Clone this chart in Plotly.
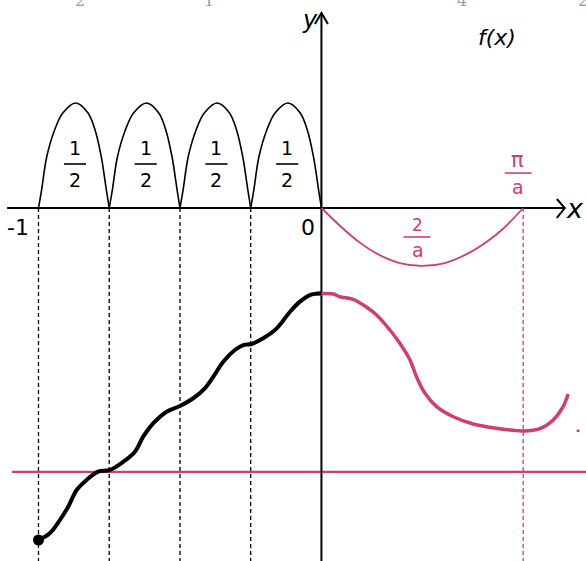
import plotly.graph_objects as go

PINK = "#d43c6f"
INK = "black"

# --- arches |f| on [-1, 0]: one arch profile (offset from its start, height) ---
arch_starts = [-1.0, -0.75, -0.5, -0.25]
arch_dx = [0, 0.011, 0.029, 0.057, 0.086, 0.132, 0.175, 0.2, 0.222, 0.24, 0.25]
arch_y = [0, 0.171, 0.486, 0.743, 0.905, 1.0, 0.905, 0.743, 0.486, 0.171, 0]
arch_label_dx = 0.129

# --- pink bowl on [0, pi/a] ---
pi_over_a = 0.713
bowl_x = [0, 0.076, 0.136, 0.196, 0.277, 0.355, 0.436, 0.52, 0.588, 0.643, 0.713]
bowl_y = [0, -0.195, -0.33, -0.435, -0.525, -0.552, -0.524, -0.43, -0.315, -0.195, 0]

# --- lower sketch: antiderivative (black, left) and pink continuation ---
wave_x = [-1.0, -0.96, -0.924, -0.895, -0.865, -0.83, -0.789, -0.748, -0.70, -0.659,
          -0.63, -0.594, -0.547, -0.5, -0.453, -0.412, -0.382, -0.347, -0.306, -0.276,
          -0.247, -0.206, -0.158, -0.111, -0.076, -0.041, 0.0]
wave_y = [-3.162, -3.098, -2.971, -2.845, -2.686, -2.59, -2.511, -2.495, -2.416, -2.321,
          -2.178, -2.05, -1.94, -1.886, -1.812, -1.717, -1.607, -1.464, -1.352, -1.305,
          -1.295, -1.241, -1.146, -0.988, -0.892, -0.829, -0.812]

tail_x = [-0.023, 0.042, 0.065, 0.112, 0.148, 0.195, 0.242, 0.277, 0.313, 0.336,
          0.366, 0.407, 0.466, 0.536, 0.619, 0.713, 0.772, 0.819, 0.854, 0.872]
tail_y = [-0.819, -0.819, -0.845, -0.87, -0.924, -1.019, -1.162, -1.289, -1.448, -1.607,
          -1.765, -1.892, -1.988, -2.057, -2.098, -2.124, -2.102, -2.019, -1.892, -1.771]

level_y = -2.514

X_RANGE = [-1.136, 0.935]
Y_RANGE = [-3.362, 1.981]

fig = go.Figure()


def line(x, y, color=INK, width=1.5, dash=None, shape="linear"):
    fig.add_trace(go.Scatter(
        x=x, y=y, mode="lines", hoverinfo="skip", showlegend=False,
        line=dict(color=color, width=width, dash=dash, shape=shape),
    ))


# dashed guides
for x0 in arch_starts:
    line([x0, x0], [0, Y_RANGE[0]], width=1.3, dash="4px,3px")
line([pi_over_a, pi_over_a], [0, Y_RANGE[0]], color=PINK, width=1.3, dash="4px,3px")

# pink horizontal level
line([-1.094, X_RANGE[1]], [level_y, level_y], color=PINK, width=2.2)

# axes with arrow heads
line([-1.111, 0.86], [0, 0], width=2)
line([0.832, 0.86, 0.832], [0.086, 0, -0.095], width=2)
line([0, 0], [Y_RANGE[0], 1.857], width=2)
line([-0.023, 0, 0.023], [1.752, 1.857, 1.752], width=2)

# arches
for x0 in arch_starts:
    line([x0 + d for d in arch_dx], arch_y, width=1.6, shape="spline")
    cx = x0 + arch_label_dx
    line([cx - 0.039, cx + 0.039], [0.419, 0.419], width=1.6)

# pink bowl
line(bowl_x, bowl_y, color=PINK, width=1.8, shape="spline")
line([0.29, 0.385], [-0.276, -0.276], color=PINK, width=1.6)
line([0.648, 0.743], [0.333, 0.333], color=PINK, width=1.6)

# lower curves
line(tail_x, tail_y, color=PINK, width=3.5, shape="spline")
line(wave_x, wave_y, width=4, shape="spline")
fig.add_trace(go.Scatter(
    x=[wave_x[0]], y=[wave_y[0]], mode="markers", hoverinfo="skip", showlegend=False,
    marker=dict(color=INK, size=11),
))
# stray pink tick near the right edge
line([0.902, 0.912], [-2.12, -2.125], color=PINK, width=2.5)

HAND = "DejaVu Sans"
notes = []
for x0 in arch_starts:
    cx = x0 + arch_label_dx
    notes.append(dict(x=cx, y=0.571, text="1", size=19, color=INK))
    notes.append(dict(x=cx, y=0.262, text="2", size=19, color=INK))
notes += [
    dict(x=0.341, y=-0.16, text="2", size=17, color=PINK),
    dict(x=0.341, y=-0.40, text="a", size=19, color=PINK),
    dict(x=0.694, y=0.46, text="π", size=21, color=PINK),
    dict(x=0.694, y=0.20, text="a", size=19, color=PINK),
    dict(x=-1.072, y=-0.19, text="-1", size=22, color=INK),
    dict(x=-0.048, y=-0.19, text="0", size=22, color=INK),
    dict(x=0.895, y=0.0, text="<i>x</i>", size=27, color=INK),
    dict(x=-0.04, y=1.79, text="<i>y</i>", size=24, color=INK),
    dict(x=0.62, y=1.62, text="<i>f(x)</i>", size=22, color=INK),
]
for n in notes:
    fig.add_annotation(x=n["x"], y=n["y"], text=n["text"], showarrow=False,
                       font=dict(family=HAND, size=n["size"], color=n["color"]))

# faint labels cut off at the top edge
for tx, tt in [(-0.853, "2"), (-0.397, "1"), (0.496, "4"), (0.924, "2")]:
    fig.add_annotation(x=tx, y=Y_RANGE[1], text=tt, showarrow=False, yanchor="middle",
                       font=dict(family="DejaVu Serif", size=16, color="#9a9a9a"))

fig.update_layout(
    width=586, height=561, margin=dict(l=0, r=0, t=0, b=0),
    paper_bgcolor="white", plot_bgcolor="white", showlegend=False,
    xaxis=dict(range=X_RANGE, visible=False, fixedrange=True),
    yaxis=dict(range=Y_RANGE, visible=False, fixedrange=True),
)

# drop the page's default body margin so the sketch sits flush in the window
fig.write_html("out.html", post_script="document.body.style.margin='0';",
               config=dict(displayModeBar=False))
